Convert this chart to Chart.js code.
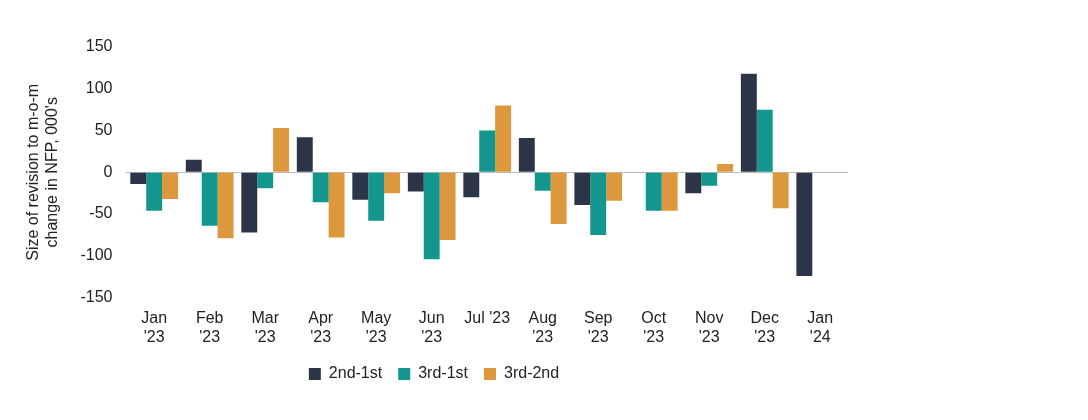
<!DOCTYPE html>
<html>
<head>
<meta charset="utf-8">
<script src="https://cdn.jsdelivr.net/npm/chart.js@4"></script>
<style>
  html, body { margin: 0; padding: 0; background: #fff; }
  #wrap { width: 1088px; height: 420px; position: relative; }
</style>
</head>
<body>
<div id="wrap"><canvas id="c"></canvas></div>
<script>
const LABELS = [["Jan", "'23"], ["Feb", "'23"], ["Mar", "'23"], ["Apr", "'23"], ["May", "'23"], ["Jun", "'23"],
  "Jul '23", ["Aug", "'23"], ["Sep", "'23"], ["Oct", "'23"], ["Nov", "'23"], ["Dec", "'23"], ["Jan", "'24"]];
const SECOND_FIRST = [-14, 15, -72, 42, -33, -23, -30, 41, -39, 0, -25, 118, -124];
const THIRD_FIRST = [-46, -64, -19, -36, -58, -104, 50, -22, -75, -46, -16, 75, null];
const THIRD_SECOND = [-32, -79, 53, -78, -25, -81, 80, -62, -34, -46, 10, -43, null];

const COLORS = { navy: "#2b3547", teal: "#12968d", orange: "#dd973d" };
const FONT = { family: "'Liberation Sans', Arial, sans-serif", size: 16 };

new Chart(document.getElementById("c"), {
  type: "bar",
  data: {
    labels: LABELS,
    datasets: [
      { label: "2nd-1st", data: SECOND_FIRST, backgroundColor: COLORS.navy },
      { label: "3rd-1st", data: THIRD_FIRST, backgroundColor: COLORS.teal },
      { label: "3rd-2nd", data: THIRD_SECOND, backgroundColor: COLORS.orange },
    ],
  },
  options: {
    responsive: true,
    maintainAspectRatio: false,
    animation: false,
    layout: { padding: { left: 20, right: 240, top: 47, bottom: 28 } },
    datasets: { bar: { categoryPercentage: 0.86, barPercentage: 1.0 } },
    plugins: {
      legend: {
        position: "bottom",
        labels: { font: FONT, color: "#222", boxWidth: 12, boxHeight: 12, padding: 16 },
      },
      tooltip: { enabled: false },
    },
    scales: {
      x: {
        grid: { display: false },
        border: { display: false },
        ticks: { font: FONT, color: "#222", maxRotation: 0, autoSkip: false },
      },
      y: {
        min: -150,
        max: 150,
        border: { display: false },
        grid: {
          drawTicks: false,
          color: (ctx) => (ctx.tick && ctx.tick.value === 0 ? "#bbbbbb" : "transparent"),
        },
        ticks: { stepSize: 50, font: FONT, color: "#222", padding: 14 },
        title: {
          display: true,
          text: ["Size of revision to m-o-m", "change in NFP, 000's"],
          font: FONT,
          color: "#222",
        },
      },
    },
  },
});
</script>
</body>
</html>
